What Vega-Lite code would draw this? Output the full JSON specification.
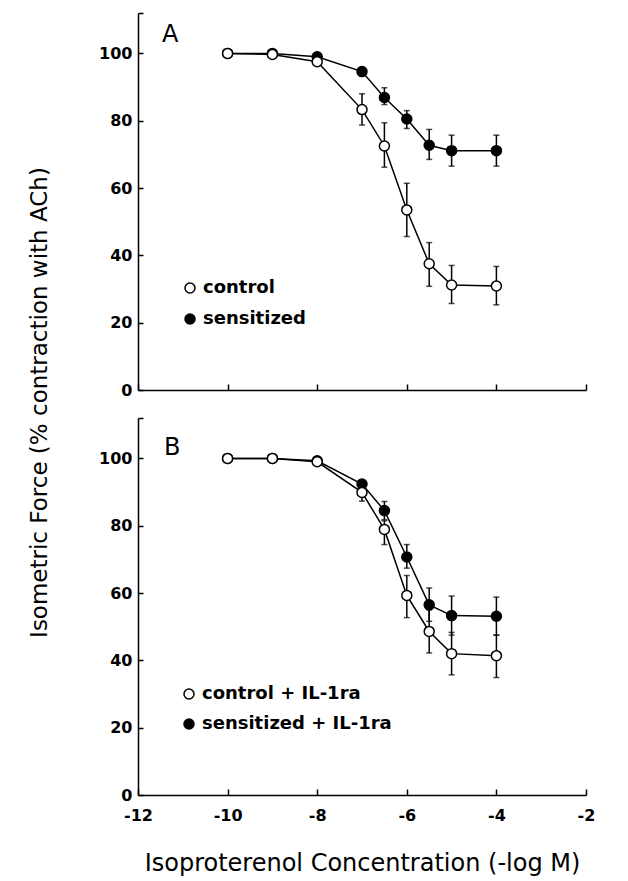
{
  "$schema": "https://vega.github.io/schema/vega-lite/v6.json",
  "autosize": {"type": "pad"},
  "padding": {"left": 28, "top": 5, "right": 20, "bottom": 3},
  "background": "white",
  "bounds": "flush",
  "spacing": 28,
  "config": {
    "view": {"stroke": null},
    "axis": {
      "grid": false,
      "domainColor": "black",
      "domainWidth": 1.5,
      "tickColor": "black",
      "tickWidth": 1.5,
      "labelColor": "black",
      "labelFont": "DejaVu Sans",
      "labelFontWeight": "bold",
      "labelFontSize": 16,
      "labelFlush": false,
      "labelOverlap": false,
      "titleColor": "black",
      "titleFont": "DejaVu Sans",
      "titleFontWeight": "normal"
    }
  },
  "resolve": {"scale": {"fill": "independent"}, "legend": {"fill": "independent"}},
  "datasets": {
    "a": [
      {"group": "sensitized", "x": -10, "y": 100, "lo": null, "hi": null},
      {"group": "sensitized", "x": -9, "y": 100, "lo": null, "hi": null},
      {"group": "sensitized", "x": -8, "y": 99, "lo": null, "hi": null},
      {"group": "sensitized", "x": -7, "y": 94.6, "lo": null, "hi": null},
      {"group": "sensitized", "x": -6.5, "y": 86.9, "lo": 84.8, "hi": 89.8},
      {"group": "sensitized", "x": -6, "y": 80.5, "lo": 77.7, "hi": 83},
      {"group": "sensitized", "x": -5.5, "y": 72.7, "lo": 68.5, "hi": 77.4},
      {"group": "sensitized", "x": -5, "y": 71.1, "lo": 66.5, "hi": 75.7},
      {"group": "sensitized", "x": -4, "y": 71.1, "lo": 66.5, "hi": 75.7},
      {"group": "control", "x": -10, "y": 100, "lo": null, "hi": null},
      {"group": "control", "x": -9, "y": 99.7, "lo": null, "hi": null},
      {"group": "control", "x": -8, "y": 97.5, "lo": null, "hi": null},
      {"group": "control", "x": -7, "y": 83.3, "lo": 78.7, "hi": 88},
      {"group": "control", "x": -6.5, "y": 72.5, "lo": 66.2, "hi": 79.4},
      {"group": "control", "x": -6, "y": 53.5, "lo": 45.6, "hi": 61.4},
      {"group": "control", "x": -5.5, "y": 37.5, "lo": 30.8, "hi": 43.8},
      {"group": "control", "x": -5, "y": 31.2, "lo": 25.7, "hi": 37},
      {"group": "control", "x": -4, "y": 30.9, "lo": 25.3, "hi": 36.7}
    ],
    "b": [
      {"group": "sensitized + IL-1ra", "x": -10, "y": 100, "lo": null, "hi": null},
      {"group": "sensitized + IL-1ra", "x": -9, "y": 100, "lo": null, "hi": null},
      {"group": "sensitized + IL-1ra", "x": -8, "y": 99.3, "lo": null, "hi": null},
      {"group": "sensitized + IL-1ra", "x": -7, "y": 92.4, "lo": null, "hi": null},
      {"group": "sensitized + IL-1ra", "x": -6.5, "y": 84.5, "lo": 81.8, "hi": 87.2},
      {"group": "sensitized + IL-1ra", "x": -6, "y": 70.7, "lo": 67.4, "hi": 74.4},
      {"group": "sensitized + IL-1ra", "x": -5.5, "y": 56.5, "lo": 51.6, "hi": 61.5},
      {"group": "sensitized + IL-1ra", "x": -5, "y": 53.3, "lo": 47.5, "hi": 59.1},
      {"group": "sensitized + IL-1ra", "x": -4, "y": 53.1, "lo": 47.5, "hi": 58.8},
      {"group": "control + IL-1ra", "x": -10, "y": 100, "lo": null, "hi": null},
      {"group": "control + IL-1ra", "x": -9, "y": 100, "lo": null, "hi": null},
      {"group": "control + IL-1ra", "x": -8, "y": 99, "lo": null, "hi": null},
      {"group": "control + IL-1ra", "x": -7, "y": 89.9, "lo": 87.3, "hi": 92},
      {"group": "control + IL-1ra", "x": -6.5, "y": 78.9, "lo": 74.4, "hi": 81.5},
      {"group": "control + IL-1ra", "x": -6, "y": 59.3, "lo": 52.7, "hi": 65.2},
      {"group": "control + IL-1ra", "x": -5.5, "y": 48.6, "lo": 42.2, "hi": 55},
      {"group": "control + IL-1ra", "x": -5, "y": 42, "lo": 35.7, "hi": 48.3},
      {"group": "control + IL-1ra", "x": -4, "y": 41.4, "lo": 34.9, "hi": 47.5}
    ]
  },
  "vconcat": [
    {
      "width": 448,
      "height": 377,
      "data": {"name": "a"},
      "title": {"text": "A", "anchor": "start", "frame": "group", "orient": "top", "offset": -61, "dx": 24, "fontSize": 24, "fontWeight": "normal", "font": "DejaVu Sans", "baseline": "alphabetic", "color": "black"},
      "encoding": {
        "x": {"field": "x", "type": "quantitative", "scale": {"domain": [-12, -2], "nice": false, "zero": false},
          "axis": {"title": null, "labels": false, "values": [-12, -10, -8, -6, -4, -2], "tickSize": -6}},
        "y": {"field": "y", "type": "quantitative", "scale": {"domain": [0, 112], "nice": false},
          "title": "Isometric Force (% contraction with ACh)",
          "axis": {"values": [0, 20, 40, 60, 80, 100, 112], "labelExpr": "datum.value > 105 ? '' : datum.label", "tickSize": -5, "labelPadding": 11,
            "titleFontSize": 23, "titleAngle": -90, "titleX": -99, "titleY": 389, "titleAlign": "center", "titleBaseline": "middle"}}
      },
      "layer": [
        {"transform": [{"filter": "datum.lo != null"}], "mark": {"type": "rule", "strokeWidth": 1.5, "color": "black"},
          "encoding": {"y": {"field": "lo", "type": "quantitative", "title": "Isometric Force (% contraction with ACh)"}, "y2": {"field": "hi"}}},
        {"transform": [{"filter": "datum.lo != null"}], "mark": {"type": "tick", "orient": "horizontal", "size": 6, "thickness": 1.5, "color": "black"},
          "encoding": {"y": {"field": "lo", "type": "quantitative", "title": "Isometric Force (% contraction with ACh)"}}},
        {"transform": [{"filter": "datum.lo != null"}], "mark": {"type": "tick", "orient": "horizontal", "size": 6, "thickness": 1.5, "color": "black"},
          "encoding": {"y": {"field": "hi", "type": "quantitative", "title": "Isometric Force (% contraction with ACh)"}}},
        {"mark": {"type": "line", "color": "black", "strokeWidth": 1.5}, "encoding": {"detail": {"field": "group"}}},
        {"mark": {"type": "point", "shape": "circle", "filled": true, "size": 100, "stroke": "black", "strokeWidth": 1.5, "opacity": 1},
          "encoding": {"fill": {"field": "group", "type": "nominal", "scale": {"domain": ["control", "sensitized"], "range": ["white", "black"]},
            "legend": {"orient": "none", "legendX": 43, "legendY": 266, "title": null, "labelFont": "DejaVu Sans", "labelFontWeight": "bold", "labelFontSize": 18, "labelColor": "black", "labelLimit": 400,
              "symbolType": "circle", "symbolSize": 100, "symbolStrokeColor": "black", "symbolStrokeWidth": 1.5, "rowPadding": 13, "labelOffset": 4}}}}
      ]
    },
    {
      "width": 448,
      "height": 377,
      "data": {"name": "b"},
      "title": {"text": "B", "anchor": "start", "frame": "group", "orient": "top", "offset": -69, "dx": 26, "fontSize": 24, "fontWeight": "normal", "font": "DejaVu Sans", "baseline": "alphabetic", "color": "black"},
      "encoding": {
        "x": {"field": "x", "type": "quantitative", "scale": {"domain": [-12, -2], "nice": false, "zero": false},
          "title": "Isoproterenol Concentration (-log M)",
          "axis": {"values": [-12, -10, -8, -6, -4, -2], "labelExpr": "datum.value < 0 ? '-' + abs(datum.value) : datum.label", "tickSize": -6, "labelPadding": 18, "titleFontSize": 24, "titlePadding": 28}},
        "y": {"field": "y", "type": "quantitative", "scale": {"domain": [0, 112], "nice": false},
          "title": null,
          "axis": {"values": [0, 20, 40, 60, 80, 100, 112], "labelExpr": "datum.value > 105 ? '' : datum.label", "tickSize": -5, "labelPadding": 11}}
      },
      "layer": [
        {"transform": [{"filter": "datum.lo != null"}], "mark": {"type": "rule", "strokeWidth": 1.5, "color": "black"},
          "encoding": {"y": {"field": "lo", "type": "quantitative", "title": null}, "y2": {"field": "hi"}}},
        {"transform": [{"filter": "datum.lo != null"}], "mark": {"type": "tick", "orient": "horizontal", "size": 6, "thickness": 1.5, "color": "black"},
          "encoding": {"y": {"field": "lo", "type": "quantitative", "title": null}}},
        {"transform": [{"filter": "datum.lo != null"}], "mark": {"type": "tick", "orient": "horizontal", "size": 6, "thickness": 1.5, "color": "black"},
          "encoding": {"y": {"field": "hi", "type": "quantitative", "title": null}}},
        {"mark": {"type": "line", "color": "black", "strokeWidth": 1.5}, "encoding": {"detail": {"field": "group"}}},
        {"mark": {"type": "point", "shape": "circle", "filled": true, "size": 100, "stroke": "black", "strokeWidth": 1.5, "opacity": 1},
          "encoding": {"fill": {"field": "group", "type": "nominal", "scale": {"domain": ["control + IL-1ra", "sensitized + IL-1ra"], "range": ["white", "black"]},
            "legend": {"orient": "none", "legendX": 42, "legendY": 267, "title": null, "labelFont": "DejaVu Sans", "labelFontWeight": "bold", "labelFontSize": 18, "labelColor": "black", "labelLimit": 400,
              "symbolType": "circle", "symbolSize": 100, "symbolStrokeColor": "black", "symbolStrokeWidth": 1.5, "rowPadding": 12, "labelOffset": 4}}}}
      ]
    }
  ]
}
